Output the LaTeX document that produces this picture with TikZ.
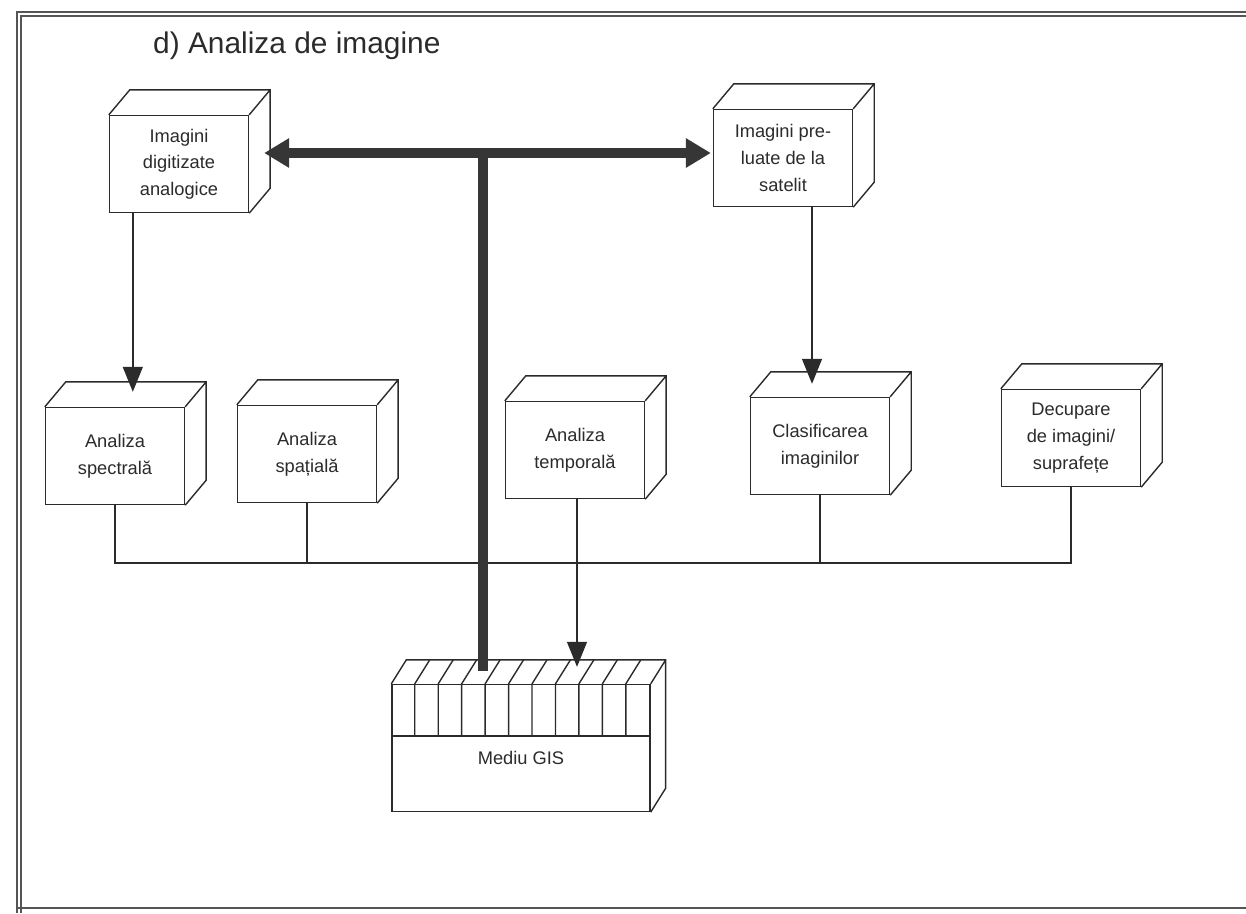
\documentclass[tikz,border=0pt]{standalone}
\usepackage{fontspec}
\setmainfont{Liberation Sans}
\usepackage{xcolor}
\usetikzlibrary{positioning, arrows.meta, calc}
\definecolor{ink}{HTML}{2B2B2B}
\tikzset{
  cube/.style={draw=ink, line width=0.8pt, fill=white, align=center, text=ink,
    font=\fontsize{10.4}{15.2}\selectfont, minimum width=2.78cm, minimum height=1.94cm, inner sep=2pt},
  face/.style={draw=ink, line width=0.8pt},
  gisbox/.style={draw=ink, line width=0.8pt, minimum width=5.16cm, minimum height=2.54cm, inner sep=0pt},
  lbl/.style={text=ink, font=\fontsize{10.4}{15.2}\selectfont},
  titlefont/.style={text=ink, font=\fontsize{17}{20}\selectfont},
  frame/.style={draw=ink!80, line width=0.7pt},
  arr/.style={-{Triangle[length=5mm, width=4mm]}, draw=ink, line width=0.8pt},
  bus/.style={draw=ink, line width=0.7pt},
  bigarr/.style={{Triangle[length=5mm, width=5.6mm]}-{Triangle[length=5mm, width=5.6mm]}, draw=ink!95, line width=2mm},
  bigline/.style={draw=ink!95, line width=2mm},
}

\begin{document}
\begin{tikzpicture}[x=0.02cm, y=-0.02cm]
\useasboundingbox (0,0) rectangle (1246,913);
% page frame
\draw[frame] (1246,12) -- (17,12) -- (17,913);
\draw[frame] (1246,16) -- (21,16) -- (21,913);
\draw[frame] (17,908) -- (1246,908);
\node[titlefont, anchor=west] (title) at (147,46) {d) Analiza de imagine};

% boxes
\node[cube] (digit) at (179,164) {Imagini\\digitizate\\analogice};
\node[cube] (sat) at (783,158) {Imagini pre-\\luate de la\\satelit};
\node[cube] (spec) at (115,456) {Analiza\\spectrală};
\node[cube] (spat) at (307,454) {Analiza\\spațială};
\node[cube] (temp) at (575,450) {Analiza\\temporală};
\node[cube] (clas) at (820,446) {Clasificarea\\imaginilor};
\node[cube] (dec) at (1071,438) {Decupare\\de imagini/\\suprafețe};
\foreach \n in {digit, sat, spec, spat, temp, clas, dec}
  \draw[face] (\n.north west) -- ++(21,-25) -- ($(\n.north east)+(21,-25)$)
    -- ($(\n.south east)+(21,-25)$) -- (\n.south east)
    (\n.north east) -- ++(21,-25);

% GIS block
\node[gisbox] (gis) at (521,748) {};
\node[lbl] (gistxt) at (521,758) {Mediu GIS};
\draw[face] ($(gis.north west)+(0,52)$) -- ($(gis.north east)+(0,52)$);
\foreach \i in {1,...,10}
  \draw[face] ($(gis.north west)+(\i*23.45,0)$) -- ++(0,52)
    ($(gis.north west)+(\i*23.45,0)$) -- ++(15,-24);
\draw[face] (gis.north west) -- ++(15,-24) -- ($(gis.north east)+(15,-24)$)
  -- ($(gis.south east)+(15,-24)$) -- (gis.south east)
  (gis.north east) -- ++(15,-24);

% connectors
\coordinate (bus) at (0,563);
\coordinate (specTop) at ($(spec.north)+(0,-15)$);
\coordinate (clasTop) at ($(clas.north)+(0,-13)$);
\coordinate (gisTop) at ($(gis.north)+(0,-17)$);
\coordinate (hub) at (483,153);
\draw[bus] (spec.south) -- (spec.south |- bus) -| (dec.south);
\draw[bus] (spat.south) -- (spat.south |- bus);
\draw[bus] (clas.south) -- (clas.south |- bus);
\draw[arr] ($(temp.south)+(2,0)$) coordinate (t0) -- (t0 |- gisTop);
\draw[arr] ($(digit.south west)+(24,0)$) coordinate (d0) -- (d0 |- specTop);
\draw[arr] ($(sat.south)+(29,0)$) coordinate (s0) -- (s0 |- clasTop);
\draw[bigline] (hub) -- ($(hub |- gis.north)+(0,-13)$);
\draw[bigarr] ($(hub -| digit.east)+(15,0)$) -- ($(hub -| sat.west)+(-2,0)$);
\end{tikzpicture}
\end{document}
